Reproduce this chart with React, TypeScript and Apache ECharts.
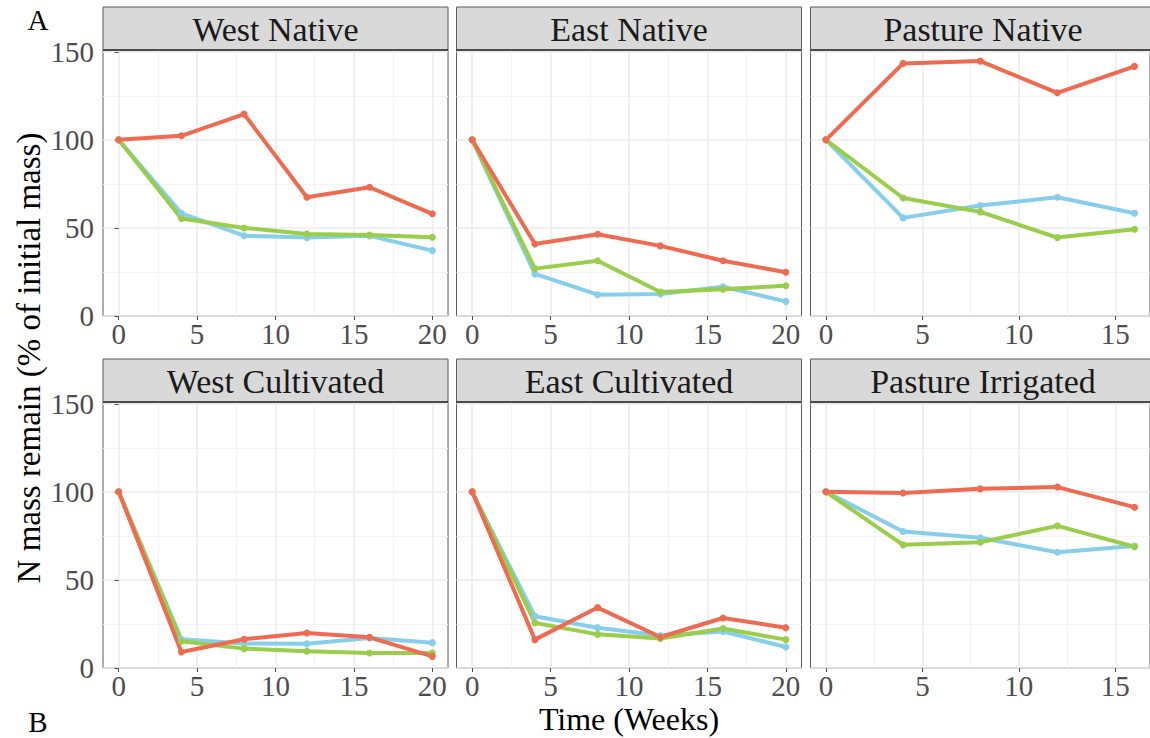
import React, { useEffect, useRef } from "react";
import * as echarts from "echarts";

// Facet titles, in reading order (top row then bottom row)
const panelTitles = [
  "West Native",
  "East Native",
  "Pasture Native",
  "West Cultivated",
  "East Cultivated",
  "Pasture Irrigated",
];

// Sampling weeks
const weeksLong = [0, 4, 8, 12, 16, 20];
const weeksShort = [0, 4, 8, 12, 16];
const panelWeeks = [weeksLong, weeksLong, weeksShort, weeksLong, weeksLong, weeksShort];

// N mass remaining (% of initial mass), one row per panel
const redValues = [
  [100, 102.3, 114.6, 67.4, 73.1, 58.0],
  [100, 40.9, 46.4, 39.8, 31.4, 24.8],
  [100, 143.4, 144.7, 126.7, 141.7],
  [100, 9.1, 16.3, 19.9, 17.4, 6.6],
  [100, 16.1, 34.3, 17.6, 28.4, 22.9],
  [100, 99.3, 101.7, 102.7, 91.3],
];
const blueValues = [
  [100, 58.3, 45.6, 44.5, 45.5, 37.1],
  [100, 23.9, 12.1, 12.5, 16.6, 8.3],
  [100, 55.7, 62.7, 67.4, 58.3],
  [100, 16.3, 13.9, 13.7, 17.0, 14.4],
  [100, 29.4, 22.9, 18.4, 20.7, 11.9],
  [100, 77.5, 73.9, 65.7, 69.3],
];
const greenValues = [
  [100, 55.3, 50.0, 46.6, 46.0, 44.7],
  [100, 26.9, 31.4, 13.6, 15.2, 17.2],
  [100, 67.0, 59.1, 44.5, 49.2],
  [100, 15.2, 11.0, 9.5, 8.5, 8.5],
  [100, 25.6, 19.1, 16.7, 22.4, 16.1],
  [100, 69.9, 71.4, 80.7, 68.8],
];

// Axis breaks
const yTicks = [0, 50, 100, 150];
const yMinor = [25, 75, 125];
const xTicksLong = [0, 5, 10, 15, 20];
const xMinorLong = [2.5, 7.5, 12.5, 17.5];
const xTicksShort = [0, 5, 10, 15];
const xMinorShort = [2.5, 7.5, 12.5];

const RED = "#EE6A50";
const BLUE = "#87CEEB";
const GREEN = "#9ACD4A";
const FONT = "Liberation Serif";

export default function App() {
  const ref = useRef<HTMLDivElement>(null);

  useEffect(() => {
    if (!ref.current) return;
    const chart = echarts.init(ref.current, undefined, { renderer: "svg" });

    const colLeft = [103, 456.5, 810.5];
    const panelW = 345;
    const rowTop = [50, 402];
    const plotH = 266;
    const stripH = 43;

    const grids: any[] = [];
    const xAxes: any[] = [];
    const yAxes: any[] = [];
    const series: any[] = [];
    const graphics: any[] = [];

    panelTitles.forEach((title, i) => {
      const r = Math.floor(i / 3);
      const c = i % 3;
      const isLong = panelWeeks[i].length === 6;
      const xMin = isLong ? -1 : -0.8;
      const xMax = isLong ? 21 : 16.8;
      const xTicks = isLong ? xTicksLong : xTicksShort;
      const xMinor = isLong ? xMinorLong : xMinorShort;

      grids.push({
        left: colLeft[c],
        top: rowTop[r],
        width: panelW,
        height: plotH,
        show: true,
        backgroundColor: "#ffffff",
        borderColor: "#5a5a5a",
        borderWidth: 1,
      });

      // main x axis: labels, ticks, major grid
      xAxes.push({
        type: "value",
        gridIndex: i,
        min: xMin,
        max: xMax,
        axisLine: { show: false },
        axisTick: {
          show: true,
          length: 4,
          customValues: xTicks,
          lineStyle: { color: "#4d4d4d", width: 1 },
        },
        axisLabel: {
          show: true,
          customValues: xTicks,
          margin: 3,
          color: "#4D4D4D",
          fontFamily: FONT,
          fontSize: 29,
        },
        splitLine: { show: true, lineStyle: { color: "#EBEBEB", width: 1.5 } },
      });
      // minor x grid
      xAxes.push({
        type: "value",
        gridIndex: i,
        min: xMin,
        max: xMax,
        axisLine: { show: false },
        axisTick: { show: false, customValues: xMinor },
        axisLabel: { show: false },
        splitLine: { show: true, lineStyle: { color: "#F3F3F3", width: 1 } },
      });

      yAxes.push({
        type: "value",
        gridIndex: i,
        min: 0,
        max: 151,
        axisLine: { show: false },
        axisTick: {
          show: c === 0,
          length: 4,
          customValues: yTicks,
          lineStyle: { color: "#4d4d4d", width: 1 },
        },
        axisLabel: {
          show: c === 0,
          customValues: yTicks,
          margin: 9,
          color: "#4D4D4D",
          fontFamily: FONT,
          fontSize: 29,
        },
        splitLine: { show: true, lineStyle: { color: "#EBEBEB", width: 1.5 } },
      });
      yAxes.push({
        type: "value",
        gridIndex: i,
        min: 0,
        max: 151,
        axisLine: { show: false },
        axisTick: { show: false, customValues: yMinor },
        axisLabel: { show: false },
        splitLine: { show: true, lineStyle: { color: "#F3F3F3", width: 1 } },
      });

      const groups: [number[][], string][] = [
        [blueValues, BLUE],
        [greenValues, GREEN],
        [redValues, RED],
      ];
      groups.forEach(([vals, color]) => {
        series.push({
          type: "line",
          xAxisIndex: 2 * i,
          yAxisIndex: 2 * i,
          data: panelWeeks[i].map((w, k) => [w, vals[i][k]]),
          symbol: "circle",
          symbolSize: 7,
          showSymbol: true,
          lineStyle: { color, width: 4 },
          itemStyle: { color },
          silent: true,
        });
      });

      // facet strip
      graphics.push({
        type: "rect",
        shape: { x: colLeft[c], y: rowTop[r] - stripH, width: panelW, height: stripH },
        style: { fill: "#D9D9D9", stroke: "#5a5a5a", lineWidth: 1 },
        z: 10,
      });
      graphics.push({
        type: "line",
        shape: { x1: colLeft[c], y1: rowTop[r], x2: colLeft[c] + panelW, y2: rowTop[r] },
        style: { stroke: "#333333", lineWidth: 1.5 },
        z: 11,
      });
      graphics.push({
        type: "text",
        x: colLeft[c] + panelW / 2,
        y: rowTop[r] - stripH / 2 + 1,
        style: {
          text: title,
          align: "center",
          verticalAlign: "middle",
          fontFamily: FONT,
          fontSize: 34,
          fill: "#1A1A1A",
        },
        z: 12,
      });
    });

    graphics.push(
      {
        type: "text",
        x: 29,
        y: 358,
        rotation: Math.PI / 2,
        style: {
          text: "N mass remain (% of initial mass)",
          align: "center",
          verticalAlign: "middle",
          fontFamily: FONT,
          fontSize: 33,
          fill: "#000000",
        },
      },
      {
        type: "text",
        x: 629,
        y: 719,
        style: {
          text: "Time (Weeks)",
          align: "center",
          verticalAlign: "middle",
          fontFamily: FONT,
          fontSize: 32,
          fill: "#000000",
        },
      },
      {
        type: "text",
        x: 38,
        y: 20,
        style: {
          text: "A",
          align: "center",
          verticalAlign: "middle",
          fontFamily: FONT,
          fontSize: 29,
          fill: "#000000",
        },
      },
      {
        type: "text",
        x: 38,
        y: 722,
        style: {
          text: "B",
          align: "center",
          verticalAlign: "middle",
          fontFamily: FONT,
          fontSize: 29,
          fill: "#000000",
        },
      }
    );

    chart.setOption({
      animation: false,
      backgroundColor: "#ffffff",
      grid: grids,
      xAxis: xAxes,
      yAxis: yAxes,
      series,
      graphic: graphics,
    });

    return () => chart.dispose();
  }, []);

  return (
    <div
      ref={ref}
      style={{ position: "absolute", left: 0, top: 0, width: 1150, height: 738 }}
    />
  );
}
